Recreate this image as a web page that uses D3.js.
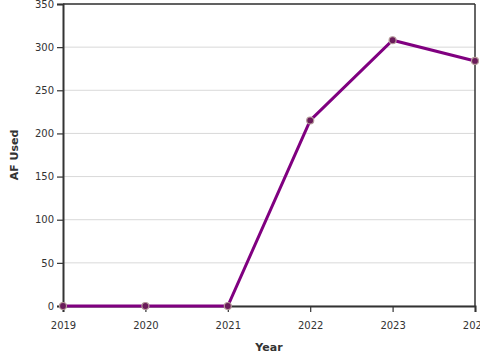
<!DOCTYPE html>
<html><head><meta charset="utf-8">
<script src="https://cdn.jsdelivr.net/npm/d3@7"></script>
<style>body{margin:0;background:#fff}svg{display:block;font-family:"DejaVu Sans",sans-serif}</style>
</head><body><svg id="c" width="480" height="360"></svg>
<script>
const years = [2019, 2020, 2021, 2022, 2023, 2024];
const afUsed = [0, 0, 0, 215, 308, 284];
const yTicks = [0, 50, 100, 150, 200, 250, 300, 350];

const svg = d3.select("#c");
const m = {l: 63, r: 5, t: 4, b: 54};
const W = 480, H = 360;
const x = d3.scaleLinear().domain([2019, 2024]).range([m.l, W - m.r]);
const y = d3.scaleLinear().domain([0, 350]).range([H - m.b, m.t]);

// gridlines
svg.append("g").selectAll("line").data(yTicks).join("line")
  .attr("x1", m.l).attr("x2", W - m.r)
  .attr("y1", d => y(d)).attr("y2", d => y(d))
  .attr("stroke", "#d9d9d9").attr("stroke-width", 1);

// frame top/right
svg.append("line").attr("x1", m.l).attr("x2", W - m.r).attr("y1", y(350)).attr("y2", y(350)).attr("stroke", "#333").attr("stroke-width", 1.5);
svg.append("line").attr("x1", W - m.r).attr("x2", W - m.r).attr("y1", y(350)).attr("y2", y(0)).attr("stroke", "#333").attr("stroke-width", 1.5);

const yAxis = svg.append("g").attr("transform", `translate(${m.l},0)`)
  .call(d3.axisLeft(y).tickValues(yTicks).tickSize(6).tickPadding(3));
const xAxis = svg.append("g").attr("transform", `translate(0,${H - m.b})`)
  .call(d3.axisBottom(x).tickValues(years).tickFormat(d3.format("d")).tickSize(6).tickPadding(10));
[yAxis, xAxis].forEach(a => {
  a.select(".domain").attr("stroke", "#333").attr("stroke-width", 2);
  a.selectAll(".tick line").attr("stroke", "#333").attr("stroke-width", 1.2);
  a.selectAll("text").attr("fill", "#333").attr("font-size", 10).attr("font-family", "DejaVu Sans");
});

const data = years.map((yr, i) => ({yr, v: afUsed[i]}));
svg.append("path").datum(data)
  .attr("fill", "none").attr("stroke", "#800080").attr("stroke-width", 3)
  .attr("d", d3.line().x(d => x(d.yr)).y(d => y(d.v)));
svg.append("g").selectAll("circle").data(data).join("circle")
  .attr("cx", d => x(d.yr)).attr("cy", d => y(d.v)).attr("r", 3.5)
  .attr("fill", "#6a1b5a").attr("stroke", "#b59a9a").attr("stroke-width", 1.2);

svg.append("text").attr("x", 269).attr("y", 351).attr("text-anchor", "middle")
  .attr("font-size", 11).attr("font-weight", "bold").attr("fill", "#333").text("Year");
svg.append("text").attr("transform", `translate(18,155) rotate(-90)`).attr("text-anchor", "middle")
  .attr("font-size", 11).attr("font-weight", "bold").attr("fill", "#333").text("AF Used");
</script></body></html>
